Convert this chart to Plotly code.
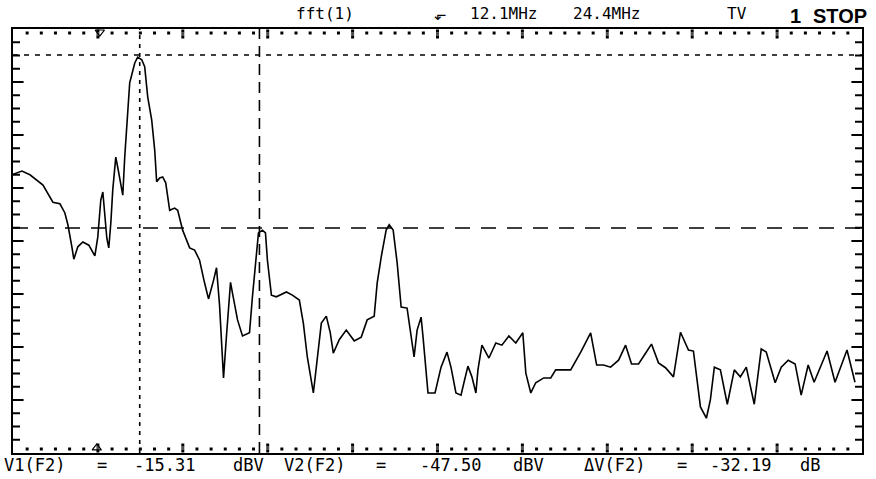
import plotly.graph_objects as go

# FFT trace: frequency (MHz) vs level (dBV)
freq_mhz = [
    -0.92, 0.00, 0.82, 2.16, 3.18, 3.90, 4.41, 4.72, 5.13, 5.33,
    5.74, 6.26, 6.87, 7.49, 7.79, 8.10, 8.31, 8.51, 8.72, 8.92,
    9.13, 9.33, 9.64, 9.84, 10.05, 10.36, 10.56, 10.77, 11.07, 11.59,
    11.89, 12.31, 12.61, 12.92, 13.33, 13.64, 13.84, 14.15, 14.46, 14.77,
    15.18, 15.69, 16.00, 16.51, 16.92, 17.23, 17.74, 18.25, 18.76, 19.17,
    19.69, 19.99, 20.30, 20.61, 20.71, 21.02, 21.43, 21.63, 22.15, 22.66,
    23.38, 23.68, 24.09, 24.30, 24.71, 25.02, 25.22, 25.63, 26.14, 27.17,
    27.78, 28.50, 28.91, 29.32, 29.94, 30.35, 30.76, 31.27, 31.68, 31.99,
    32.60, 33.32, 34.14, 34.86, 35.47, 36.19, 36.50, 36.91, 37.42, 37.73,
    38.14, 38.55, 38.96, 39.57, 39.98, 40.29, 40.60, 41.01, 41.21, 41.72,
    42.44, 43.06, 43.67, 44.08, 44.59, 45.11, 45.41, 45.82, 46.23, 46.64,
    46.85, 47.26, 47.98, 48.69, 49.31, 50.03, 50.74, 51.46, 51.77, 52.28,
    52.79, 53.61, 54.33, 54.84, 56.38, 57.41, 58.43, 59.05, 59.76, 60.48,
    61.30, 62.02, 62.63, 63.35, 64.07, 64.68, 65.40, 66.12, 66.94, 67.66,
    68.48, 68.99, 69.71, 70.32, 70.73, 71.14, 71.76, 72.47, 73.19, 73.81,
    74.42, 75.24, 75.96, 76.47, 77.39, 78.01, 78.73, 79.44, 80.06, 80.78,
    81.39, 82.72, 83.54, 84.77, 85.59,
]
level_dbv = [
    -37.5, -36.9, -37.6, -39.5, -42.7, -43.0, -44.7, -46.9, -51.0, -53.3,
    -51.0, -50.1, -50.7, -52.7, -49.2, -42.3, -40.8, -44.7, -49.4, -51.2,
    -46.6, -40.4, -34.3, -36.2, -38.6, -41.4, -34.3, -29.3, -20.5, -16.8,
    -15.7, -16.2, -17.5, -23.1, -27.4, -33.0, -38.9, -38.2, -38.0, -39.1,
    -44.2, -43.8, -44.2, -47.9, -49.7, -51.2, -51.6, -53.5, -57.7, -60.7,
    -57.2, -54.9, -61.8, -73.9, -75.4, -67.4, -57.6, -59.6, -64.6, -67.6,
    -67.0, -60.3, -52.9, -48.4, -47.9, -48.4, -53.5, -60.0, -60.3, -59.4,
    -60.0, -60.9, -65.2, -71.5, -78.2, -72.1, -65.2, -63.9, -67.0, -70.8,
    -68.3, -66.5, -68.5, -67.8, -64.6, -63.9, -57.7, -52.9, -47.9, -46.9,
    -47.9, -54.0, -62.2, -62.4, -67.8, -71.5, -66.5, -64.1, -67.8, -78.2,
    -78.2, -73.4, -70.6, -73.4, -78.2, -78.6, -76.3, -73.2, -75.2, -78.2,
    -73.9, -69.3, -71.7, -68.9, -69.3, -67.6, -68.9, -67.0, -74.5, -78.2,
    -76.3, -75.4, -75.4, -73.9, -73.9, -70.6, -67.0, -73.0, -73.0, -73.4,
    -72.1, -69.3, -72.8, -72.8, -70.8, -69.1, -72.6, -73.5, -75.2, -66.9,
    -70.2, -70.4, -80.8, -82.9, -79.5, -73.4, -73.9, -80.3, -73.9, -75.2,
    -73.4, -80.3, -70.0, -70.6, -76.3, -73.4, -72.1, -72.8, -78.6, -73.0,
    -76.2, -70.4, -76.2, -70.2, -76.2,
]

# cursors
f1_mhz, f2_mhz = 12.1, 24.4
v1_dbv, v2_dbv = -15.31, -47.50

# small trigger / reference markers on the frame
marker_x = [8.0, 7.69]
marker_y = [-11.03, -88.43]
marker_symbol = ['triangle-down-open', 'triangle-up-open']

x_range = [-0.92, 86.31]
y_range = [-89.37, -10.47]

W, H = 876, 479
ML, MR, MT, MB = 13, 12, 29, 26
PW, PH = W - ML - MR, H - MT - MB

# graticule ticks on the frame: 10 x 8 divisions, 6 sub-ticks across, 4 up
mhz_pp = (x_range[1] - x_range[0]) / PW
db_pp = (y_range[1] - y_range[0]) / PH
x_div = (x_range[1] - x_range[0]) / 10
y_div = (y_range[1] - y_range[0]) / 8
x_major = [x_range[0] + k * x_div for k in range(1, 10)]
x_minor = [x_range[0] + k * x_div / 6 for k in range(60) if k % 6]
y_major = [y_range[0] + k * y_div for k in range(1, 8)]
y_minor = [y_range[0] + k * y_div / 4 for k in range(32) if k % 4]


def ann(text, xpx, ypx, size, family='DejaVu Sans Mono', bold=False):
    return dict(
        text=text, x=(xpx - ML) / PW, y=(H - MB - ypx) / PH,
        xref='paper', yref='paper', showarrow=False,
        xanchor='center', yanchor='middle',
        font=dict(size=size, family=family, color='black',
                  weight='bold' if bold else 'normal'),
    )


fig = go.Figure()

# top / bottom rows: square dots for sub-ticks, taller bars for divisions
top_dot = y_range[1] - 4 * db_pp
bot_dot = y_range[0] + 4 * db_pp
fig.add_trace(go.Scatter(
    x=x_minor + x_minor, y=[top_dot] * len(x_minor) + [bot_dot] * len(x_minor),
    mode='markers', cliponaxis=False, hoverinfo='skip',
    marker=dict(symbol='square', size=3, color='black', line=dict(width=0)),
))
top_bar = y_range[1] - 5 * db_pp
bot_bar = y_range[0] + 5 * db_pp
fig.add_trace(go.Scatter(
    x=x_major + x_major, y=[top_bar] * len(x_major) + [bot_bar] * len(x_major),
    mode='markers', cliponaxis=False, hoverinfo='skip',
    marker=dict(symbol='square', size=[2] * 0 + [3] * (2 * len(x_major)), color='black',
                line=dict(width=0)),
))
fig.add_trace(go.Scatter(
    x=x_major + x_major,
    y=[y_range[1] - 2 * db_pp] * len(x_major) + [y_range[0] + 2 * db_pp] * len(x_major),
    mode='markers', cliponaxis=False, hoverinfo='skip',
    marker=dict(symbol='square', size=3, color='black', line=dict(width=0)),
))
fig.add_trace(go.Scatter(
    x=x_major + x_major,
    y=[y_range[1] - 8 * db_pp] * len(x_major) + [y_range[0] + 8 * db_pp] * len(x_major),
    mode='markers', cliponaxis=False, hoverinfo='skip',
    marker=dict(symbol='square', size=3, color='black', line=dict(width=0)),
))

# left / right edges: short horizontal ticks
for ln, ys in [(8, y_major), (5, y_minor)]:
    left = x_range[0] + (ln / 2 + 1) * mhz_pp
    right = x_range[1] - (ln / 2 + 1) * mhz_pp
    fig.add_trace(go.Scatter(
        x=[left] * len(ys) + [right] * len(ys), y=ys + ys,
        mode='markers', cliponaxis=False, hoverinfo='skip',
        marker=dict(symbol='line-ew', size=ln, color='black',
                    line=dict(color='black', width=2)),
    ))

fig.add_trace(go.Scatter(
    x=freq_mhz, y=level_dbv, mode='lines',
    line=dict(color='black', width=1.6), hoverinfo='skip',
))
fig.add_trace(go.Scatter(
    x=marker_x, y=marker_y, mode='markers', cliponaxis=False,
    marker=dict(symbol=marker_symbol, size=8, color='black', line=dict(width=1.2)),
    hoverinfo='skip',
))

# cursor lines
fig.add_shape(type='line', xref='x', yref='paper', x0=f1_mhz, x1=f1_mhz, y0=0, y1=1,
              line=dict(color='black', width=1.6, dash='4px,5px'))
fig.add_shape(type='line', xref='x', yref='paper', x0=f2_mhz, x1=f2_mhz, y0=0, y1=1,
              line=dict(color='black', width=1.6, dash='11px,7px'))
fig.add_shape(type='line', xref='paper', yref='y', x0=0, x1=1, y0=v1_dbv, y1=v1_dbv,
              line=dict(color='black', width=1.6, dash='5px,6px'))
fig.add_shape(type='line', xref='paper', yref='y', x0=0, x1=1, y0=v2_dbv, y1=v2_dbv,
              line=dict(color='black', width=1.6, dash='15px,11px'))

annotations = [
    ann('fft(1)', 326, 14, 16),
    ann('⬐', 442, 15, 15),
    ann('12.1MHz', 505, 14, 16),
    ann('24.4MHz', 608, 14, 16),
    ann('TV', 739, 14, 16),
    ann('1', 797, 16, 20, 'Liberation Sans Narrow, Liberation Sans', True),
    ann('STOP', 842, 16, 20, 'Liberation Sans Narrow, Liberation Sans', True),
    ann('V1(F2)', 35, 465, 17),
    ann('=', 102, 465, 17),
    ann('-15.31', 165, 465, 17),
    ann('dBV', 249, 465, 17),
    ann('V2(F2)', 315, 465, 17),
    ann('=', 382, 465, 17),
    ann('-47.50', 452, 465, 17),
    ann('dBV', 530, 465, 17),
    ann('ΔV(F2)', 616, 465, 17),
    ann('=', 684, 465, 17),
    ann('-32.19', 742, 465, 17),
    ann('dB', 812, 465, 17),
]

frame = dict(showline=True, mirror=True, linecolor='black', linewidth=2,
             showgrid=False, zeroline=False, showticklabels=False, ticks='')

fig.update_layout(
    width=W, height=H,
    margin=dict(l=ML, r=MR, t=MT, b=MB),
    paper_bgcolor='white', plot_bgcolor='white',
    showlegend=False,
    annotations=annotations,
    xaxis=dict(range=x_range, **frame),
    yaxis=dict(range=y_range, **frame),
)

# drop the default page margin so the figure sits at the window's corner
fig.write_html("out.html", config={'displayModeBar': False},
               post_script="document.body.style.margin='0';")
